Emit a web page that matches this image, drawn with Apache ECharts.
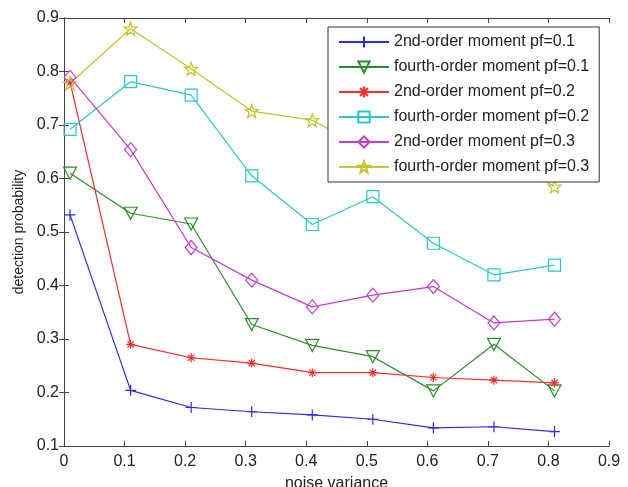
<!DOCTYPE html>
<html>
<head>
<meta charset="utf-8">
<script src="https://cdn.jsdelivr.net/npm/echarts@6/dist/echarts.min.js"></script>
<style>
  html, body { margin: 0; padding: 0; background: #fff; }
  #chart { width: 628px; height: 487px; }
</style>
</head>
<body>
<div id="chart"></div>
<script>
// noise variance (x positions of the points)
var noiseVar = [0.01, 0.11, 0.21, 0.31, 0.41, 0.51, 0.61, 0.71, 0.81];

// detection probability per curve
var second01 = [0.532, 0.204, 0.172, 0.164, 0.158, 0.150, 0.134, 0.136, 0.127];
var fourth01 = [0.610, 0.535, 0.515, 0.327, 0.288, 0.267, 0.203, 0.290, 0.203];
var second02 = [0.780, 0.290, 0.265, 0.255, 0.237, 0.237, 0.228, 0.223, 0.218];
var fourth02 = [0.692, 0.781, 0.756, 0.605, 0.514, 0.566, 0.479, 0.420, 0.438];
var second03 = [0.789, 0.654, 0.471, 0.410, 0.360, 0.382, 0.398, 0.330, 0.337];
var fourth03 = [0.778, 0.880, 0.805, 0.726, 0.709, 0.650, 0.645, 0.650, 0.585];

var names = [
    '2nd-order moment pf=0.1',
    'fourth-order moment pf=0.1',
    '2nd-order moment pf=0.2',
    'fourth-order moment pf=0.2',
    '2nd-order moment pf=0.3',
    'fourth-order moment pf=0.3'
];

var FONT = '"Liberation Sans", Arial, Helvetica, sans-serif';

var markPlus = 'path://M0,-1L0,1M-1,0L1,0';
var markStar = 'path://M0,-1L0,1M-1,0L1,0M-0.7,-0.7L0.7,0.7M-0.7,0.7L0.7,-0.7';
var markTri = 'path://M-1,-0.8L1,-0.8L0,1Z';
var markPenta = 'path://M0,-10L2.35,-3.24L9.51,-3.09L3.8,1.24L5.88,8.09L0,4L-5.88,8.09L-3.8,1.24L-9.51,-3.09L-2.35,-3.24Z';

function pairs(ys) {
    return ys.map(function (y, i) { return [noiseVar[i], y]; });
}

function makeSeries(name, ys, color, symbol, size) {
    return {
        name: name,
        type: 'line',
        data: pairs(ys),
        symbol: symbol,
        symbolSize: size,
        showAllSymbol: true,
        lineStyle: { color: color, width: 1.2 },
        itemStyle: { color: 'transparent', borderColor: color, borderWidth: 1.2 },
        emphasis: { disabled: true }
    };
}

var chart = echarts.init(document.getElementById('chart'));

var tickFmt = function (v) { return String(+v.toFixed(1)); };

var option = {
    animation: false,
    backgroundColor: '#fff',
    grid: { left: 64, right: 19, top: 18, bottom: 41, outerBoundsMode: 'none' },
    legend: {
        orient: 'vertical',
        left: 328,
        top: 27,
        padding: [7, 10, 7, 10],
        itemWidth: 50,
        itemHeight: 14,
        itemGap: 9,
        backgroundColor: '#fff',
        borderColor: '#333',
        borderWidth: 1,
        textStyle: { fontFamily: FONT, fontSize: 16, color: '#222' },
        data: names
    },
    xAxis: [{
        type: 'value',
        min: 0, max: 0.9, interval: 0.1,
        name: 'noise variance',
        nameLocation: 'middle',
        nameGap: 30,
        nameTextStyle: { fontFamily: FONT, fontSize: 16, color: '#222' },
        axisLine: { lineStyle: { color: '#444' } },
        axisTick: { inside: true, length: 5, lineStyle: { color: '#444' } },
        axisLabel: { fontFamily: FONT, fontSize: 16, color: '#222', margin: 8, formatter: tickFmt },
        splitLine: { show: false }
    }, {
        type: 'value',
        position: 'top',
        min: 0, max: 0.9, interval: 0.1,
        axisLine: { lineStyle: { color: '#444' } },
        axisTick: { inside: true, length: 5, lineStyle: { color: '#444' } },
        axisLabel: { show: false },
        splitLine: { show: false }
    }],
    yAxis: [{
        type: 'value',
        min: 0.1, max: 0.9, interval: 0.1,
        name: 'detection probability',
        nameLocation: 'middle',
        nameGap: 38,
        nameTextStyle: { fontFamily: FONT, fontSize: 14, color: '#222' },
        axisLine: { show: true, lineStyle: { color: '#444' } },
        axisTick: { show: true, inside: true, length: 5, lineStyle: { color: '#444' } },
        axisLabel: { fontFamily: FONT, fontSize: 16, color: '#222', margin: 5, formatter: tickFmt },
        splitLine: { show: false }
    }, {
        type: 'value',
        position: 'right',
        min: 0.1, max: 0.9, interval: 0.1,
        axisLine: { show: true, lineStyle: { color: '#444' } },
        axisTick: { show: true, inside: true, length: 5, lineStyle: { color: '#444' } },
        axisLabel: { show: false },
        splitLine: { show: false }
    }],
    series: [
        makeSeries(names[0], second01, '#2a2aff', markPlus, 11),
        makeSeries(names[1], fourth01, '#2a8c2a', markTri, [13, 12]),
        makeSeries(names[2], second02, '#ff2a2a', markStar, 9),
        makeSeries(names[3], fourth02, '#2ac8c8', 'rect', 12),
        makeSeries(names[4], second03, '#c83ac8', 'diamond', [12, 14]),
        makeSeries(names[5], fourth03, '#c3c32a', markPenta, 13)
    ]
};

chart.setOption(option);
</script>
</body>
</html>
